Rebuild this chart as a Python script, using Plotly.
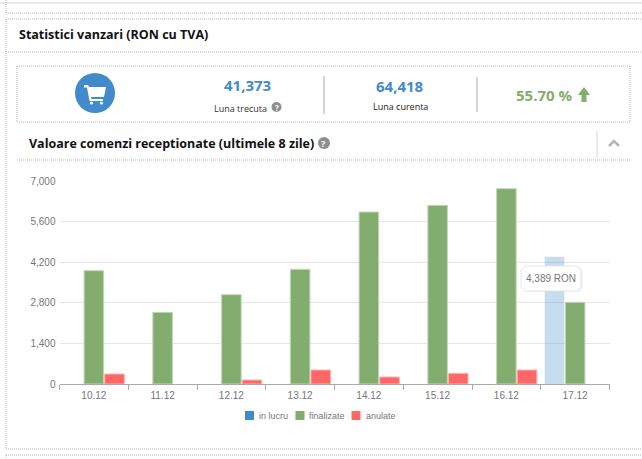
import plotly.graph_objects as go

W, H = 642, 459

days = ["10.12", "11.12", "12.12", "13.12", "14.12", "15.12", "16.12", "17.12"]
in_lucru = [None, None, None, None, None, None, None, 4389]
finalizate = [3907, 2470, 3080, 3955, 5930, 6160, 6735, 2817]
anulate = [345, None, 138, 483, 241, 368, 483, None]
y_ticks = [0, 1400, 2800, 4200, 5600, 7000]

BLUE = "#428bca"
GREEN = "#83ad6f"
RED = "#ff6666"
CHART_FONT = "Liberation Sans"
PAGE_FONT = "Open Sans"


def px(x):
    return x / W


def py(y):
    return 1 - y / H


def line(x0, y0, x1, y1, color="#b5b5b5", dash="1px,1px", width=1):
    return dict(type="line", xref="paper", yref="paper", x0=px(x0), y0=py(y0), x1=px(x1), y1=py(y1),
                line=dict(color=color, dash=dash, width=width))


def circle(cx, cy, r, color):
    return dict(type="circle", xref="paper", yref="paper", x0=px(cx - r), x1=px(cx + r),
                y0=py(cy - r), y1=py(cy + r), fillcolor=color, line=dict(width=0))


def rect(x0, y0, x1, y1, color):
    return dict(type="rect", xref="paper", yref="paper", x0=px(x0), x1=px(x1), y0=py(y0), y1=py(y1),
                fillcolor=color, line=dict(width=0))


def poly(points, fill=None, stroke=None, width=1, close=True):
    d = "M" + " L".join(f"{px(x):.5f},{py(y):.5f}" for x, y in points)
    if close:
        d += " Z"
    return dict(type="path", xref="paper", yref="paper", path=d, fillcolor=fill,
                line=dict(color=stroke if stroke else "rgba(0,0,0,0)", width=width))


def rounded(x0, y0, x1, y1, r, fill, stroke):
    pts = [(x0 + r, y0), (x1 - r, y0), (x1, y0 + r), (x1, y1 - r), (x1 - r, y1), (x0 + r, y1), (x0, y1 - r), (x0, y0 + r)]
    return poly(pts, fill, stroke)


def text(x, y, s, size, color, anchor="center", family=PAGE_FONT, weight=None):
    return dict(xref="paper", yref="paper", x=px(x), y=py(y), text=f"<b>{s}</b>" if weight else s, showarrow=False,
                xanchor=anchor, yanchor="middle", font=dict(size=size, color=color, family=family))


fig = go.Figure()
fig.add_bar(name="in lucru", x=days, y=in_lucru,
            marker=dict(color=BLUE, opacity=[1, 1, 1, 1, 1, 1, 1, 0.3], line=dict(width=0)))
fig.add_bar(name="finalizate", x=days, y=finalizate,
            marker=dict(color=GREEN, line=dict(color="#c3d6b9", width=1)))
fig.add_bar(name="anulate", x=days, y=anulate,
            marker=dict(color=RED, line=dict(color="#ffb3b3", width=1)))

shapes = [
    # page frames
    line(0, 3, W, 3, "#e8e8e8", "solid", 2),
    line(6, 0, 6, 13), line(6, 13, W, 13),
    line(6, 19, W, 19), line(6, 19, 6, 449),
    line(6, 52, W, 52),
    line(6, 449, W, 449), line(6, 455, W, 455), line(6, 455, 6, H),
    line(17, 66, 630, 66), line(17, 122, 630, 122), line(17, 66, 17, 122), line(630, 66, 630, 122),
    line(17, 160, 630, 160),
    line(324, 76, 324, 114, "#aaaaaa", "solid"),
    line(477, 77, 477, 112, "#aaaaaa", "solid"),
    line(597, 131, 597, 157, "#d5d5d5", "solid"),
    # cart icon
    circle(95, 93, 20, BLUE),
    poly([(84, 85), (88, 85), (89, 87), (106, 87), (104, 97), (91, 97), (91.5, 99), (103, 99), (103, 101),
          (89.5, 101), (87, 87.5), (84, 87.5)], "white"),
    circle(91.5, 103, 1.6, "white"), circle(101.5, 103, 1.6, "white"),
    # help icons
    circle(276.5, 107, 5, "#8e8e8e"), circle(324, 143, 6, "#8e8e8e"),
    # up arrow
    poly([(584, 87), (590, 95), (586.5, 95), (586.5, 102), (581.5, 102), (581.5, 95), (578, 95)], GREEN),
    # collapse chevron
    poly([(609, 146), (614, 141), (619, 146)], None, "#b5b5b5", 2.5, close=False),
    # legend swatches
    rect(245, 411, 254, 420, BLUE), rect(295.5, 411, 304.5, 420, GREEN), rect(351.5, 411, 360.5, 420, RED),
    # tooltip
    rounded(522, 267, 583, 292, 4, "rgba(0,0,0,0.05)", None),
    rounded(521, 266, 581, 291, 4, "white", "#e6e6e6"),
]

annotations = [
    text(16.5, 34, "Statistici vanzari (RON cu TVA)", 12.5, "#111111", "left", weight=True),
    text(247, 85, "41,373", 15, BLUE, weight=True),
    text(240, 108, "Luna trecuta", 9, "#333333"),
    text(276.5, 107, "<b>?</b>", 8, "white"),
    text(400, 86, "64,418", 15, BLUE, weight=True),
    text(400, 106, "Luna curenta", 9, "#222222"),
    text(544, 95, "55.70 %", 15, GREEN, weight=True),
    text(26.5, 143, "Valoare comenzi receptionate (ultimele 8 zile)", 12.5, "#111111", "left", weight=True),
    text(324, 143, "<b>?</b>", 9, "white"),
    text(551, 278.5, "4,389 RON", 10, "#777777", family=CHART_FONT),
    # legend labels
    text(256.5, 416, "in lucru", 9, "#777777", "left", family=CHART_FONT),
    text(306.5, 416, "finalizate", 9, "#777777", "left", family=CHART_FONT),
    text(363.5, 416, "anulate", 9, "#777777", "left", family=CHART_FONT),
]

fig.update_layout(
    width=W, height=H,
    margin=dict(l=0, r=0, t=0, b=0, autoexpand=False),
    paper_bgcolor="white", plot_bgcolor="white",
    barmode="group", bargap=0.1, bargroupgap=0.05,
    font=dict(family=CHART_FONT, size=10, color="#777777"),
    showlegend=False,
    shapes=shapes,
    annotations=annotations,
)
fig.update_xaxes(domain=[px(59.5), px(609.5)], type="category", tickson="boundaries", ticks="outside",
                 ticklen=5, tickcolor="#aaaaaa", showline=True, linecolor="#aaaaaa", linewidth=1,
                 showgrid=False, tickfont=dict(size=10, color="#777777"), ticklabelstandoff=2)
fig.update_yaxes(domain=[1 - 384 / H, 1 - 181 / H], range=[0, 7000], tickvals=y_ticks, tickformat=",",
                 gridcolor="#e6e6e6", zeroline=False, tickfont=dict(size=10, color="#777777"),
                 ticklabelstandoff=3)

fig.write_html("out.html", config=dict(displayModeBar=False),
               post_script="document.body.style.margin='0';")
